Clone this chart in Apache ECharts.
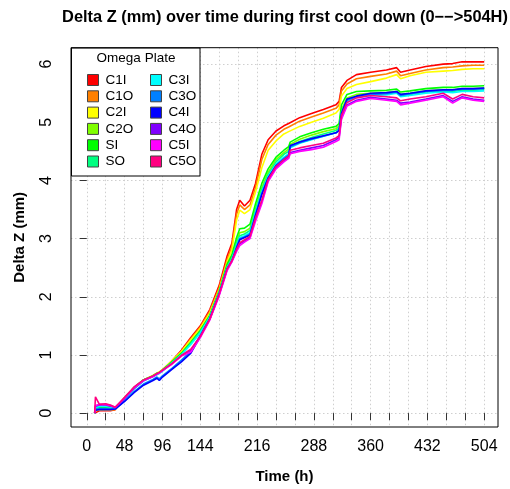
<!DOCTYPE html>
<html><head><meta charset="utf-8">
<script src="https://cdn.jsdelivr.net/npm/echarts@6/dist/echarts.min.js"></script>
<style>html,body{margin:0;padding:0;background:#fff}#c{width:510px;height:489px}</style>
</head><body><div id="c"></div>
<script>
const T = [10, 11, 16, 24, 30, 36, 48, 60, 72, 84, 89, 92, 96, 108, 120, 132, 144, 156, 168, 178, 184, 190, 194, 200, 207, 214, 222, 230, 240, 250, 256, 258, 270, 285, 300, 316, 320, 323, 330, 342, 360, 380, 393, 398, 410, 430, 452, 464, 476, 490, 504];
const C1I = [0.00,0.03,0.04,0.04,0.04,0.06, 0.26,0.42,0.56,0.64,0.68,0.70,0.74, 0.90,1.08,1.30,1.50,1.78,2.20, 2.70,2.92,3.50,3.66,3.56,3.66, 3.95,4.45,4.70,4.85,4.94,4.98, 5.00,5.08,5.15,5.22,5.30,5.36, 5.60,5.72,5.82,5.86,5.90,5.94, 5.86,5.90,5.96,6.00,6.01,6.04, 6.04,6.04];
const C1O = [0.00,0.04,0.05,0.05,0.05,0.06, 0.26,0.43,0.57,0.64,0.68,0.70,0.74, 0.89,1.06,1.28,1.48,1.75,2.16, 2.64,2.86,3.42,3.58,3.50,3.58, 3.88,4.36,4.62,4.78,4.88,4.92, 4.94,5.02,5.09,5.16,5.24,5.30, 5.54,5.66,5.75,5.79,5.83,5.88, 5.80,5.84,5.90,5.94,5.95,5.97, 5.98,5.98];
const C2I = [0.00,0.04,0.06,0.06,0.06,0.07, 0.27,0.44,0.57,0.65,0.69,0.71,0.75, 0.90,1.06,1.26,1.46,1.72,2.12, 2.60,2.80,3.32,3.49,3.43,3.50, 3.80,4.22,4.52,4.68,4.80,4.84, 4.86,4.93,5.00,5.07,5.16,5.22, 5.45,5.58,5.65,5.70,5.76,5.82, 5.75,5.80,5.86,5.88,5.89,5.91, 5.92,5.92];
const C2O = [0.00,0.07,0.09,0.09,0.08,0.08, 0.26,0.44,0.57,0.64,0.68,0.70,0.74, 0.88,1.02,1.22,1.42,1.67,2.09, 2.54,2.68,2.96,3.10,3.12,3.18, 3.52,3.88,4.14,4.36,4.48,4.54, 4.62,4.71,4.78,4.84,4.89,4.94, 5.22,5.42,5.48,5.50,5.51,5.53, 5.48,5.50,5.54,5.56,5.56,5.58, 5.58,5.59];
const SI  = [0.00,0.08,0.10,0.10,0.09,0.08, 0.26,0.44,0.57,0.64,0.68,0.70,0.74, 0.88,1.03,1.22,1.42,1.68,2.10, 2.56,2.72,3.02,3.17,3.18,3.25, 3.60,3.95,4.20,4.40,4.52,4.58, 4.66,4.75,4.82,4.88,4.93,4.98, 5.30,5.48,5.53,5.54,5.55,5.57, 5.52,5.54,5.58,5.60,5.60,5.62, 5.62,5.63];
const SO  = [0.00,0.09,0.11,0.11,0.10,0.08, 0.26,0.44,0.57,0.64,0.68,0.70,0.74, 0.87,1.01,1.20,1.40,1.66,2.08, 2.52,2.66,2.92,3.05,3.08,3.14, 3.48,3.84,4.10,4.32,4.45,4.50, 4.58,4.67,4.74,4.80,4.86,4.90, 5.18,5.38,5.45,5.48,5.49,5.51, 5.46,5.48,5.52,5.54,5.53,5.55, 5.55,5.56];
const C3I = [0.00,0.10,0.12,0.12,0.11,0.08, 0.24,0.42,0.55,0.63,0.66,0.68,0.72, 0.86,1.00,1.18,1.38,1.65,2.07, 2.50,2.64,2.88,3.02,3.05,3.10, 3.45,3.80,4.07,4.28,4.40,4.46, 4.56,4.64,4.70,4.76,4.82,4.86, 5.14,5.35,5.43,5.46,5.47,5.50, 5.44,5.46,5.50,5.52,5.51,5.53, 5.53,5.54];
const C3O = [0.00,0.06,0.08,0.08,0.07,0.07, 0.21,0.37,0.50,0.58,0.62,0.59,0.64, 0.77,0.91,1.06,1.34,1.63,2.06, 2.49,2.62,2.86,3.00,3.03,3.08, 3.42,3.78,4.05,4.26,4.38,4.44, 4.58,4.65,4.71,4.76,4.82,4.86, 5.15,5.38,5.44,5.48,5.49,5.52, 5.46,5.49,5.53,5.55,5.55,5.57, 5.57,5.58];
const C4I = [0.00,0.05,0.06,0.06,0.06,0.07, 0.20,0.35,0.48,0.56,0.60,0.56,0.62, 0.75,0.88,1.03,1.32,1.62,2.05, 2.48,2.61,2.84,2.98,3.02,3.06, 3.40,3.76,4.04,4.25,4.36,4.42, 4.60,4.66,4.72,4.77,4.82,4.86, 5.15,5.40,5.45,5.50,5.51,5.53, 5.48,5.50,5.54,5.56,5.56,5.58, 5.58,5.59];
const C4O = [0.00,0.12,0.14,0.14,0.12,0.09, 0.25,0.43,0.56,0.63,0.67,0.69,0.73, 0.85,0.99,1.08,1.32,1.61,2.04, 2.47,2.61,2.80,2.91,2.96,3.02, 3.34,3.64,4.00,4.22,4.34,4.40, 4.48,4.52,4.56,4.60,4.70,4.74, 5.08,5.30,5.38,5.43,5.40,5.38, 5.33,5.35,5.40,5.46,5.36,5.44, 5.40,5.38];
const C5I = [0.00,0.13,0.15,0.15,0.13,0.10, 0.26,0.44,0.56,0.63,0.67,0.69,0.73, 0.84,0.98,1.05,1.30,1.60,2.02, 2.45,2.60,2.78,2.88,2.94,3.00, 3.30,3.60,3.98,4.20,4.32,4.38, 4.46,4.50,4.53,4.57,4.67,4.70, 5.05,5.28,5.36,5.41,5.38,5.36, 5.30,5.33,5.38,5.44,5.33,5.42, 5.38,5.36];
const C5O = [0.00,0.28,0.15,0.16,0.14,0.10, 0.27,0.45,0.57,0.64,0.68,0.70,0.74, 0.85,0.99,1.10,1.32,1.62,2.05, 2.48,2.62,2.82,2.93,2.98,3.04, 3.36,3.66,4.02,4.24,4.36,4.42, 4.52,4.56,4.60,4.64,4.73,4.77, 5.12,5.34,5.42,5.46,5.44,5.42, 5.37,5.40,5.44,5.50,5.40,5.48, 5.44,5.42];

const names = ['C1I','C1O','C2I','C2O','SI','SO','C3I','C3O','C4I','C4O','C5I','C5O'];
const values = [C1I,C1O,C2I,C2O,SI,SO,C3I,C3O,C4I,C4O,C5I,C5O];
const colors = ['#FF0000','#FF8000','#FFFF00','#80FF00','#00FF00','#00FF80','#00FFFF','#0080FF','#0000FF','#8000FF','#FF00FF','#FF0080'];
const xTicks = [0,24,48,72,96,120,144,168,192,216,240,264,288,312,336,360,384,408,432,456,480,504];
const xLabels = [0,48,96,144,216,288,360,432,504];
const yTicks = [0,1,2,3,4,5,6];

const FONT = 'Liberation Sans, Arial, sans-serif';
const chart = echarts.init(document.getElementById('c'), null, {renderer:'canvas'});
const series = names.map((n,i)=>({
  name:n, type:'line', showSymbol:false, symbol:'none',
  data: T.map((t,j)=>[t, values[i][j]]),
  lineStyle:{color:colors[i], width:1.6},
  itemStyle:{color:colors[i]},
  emphasis:{disabled:true}, silent:true
}));
const legendCommon = {
  orient:'vertical', icon:'rect', itemWidth:11, itemHeight:11, itemGap:0.3,
  itemStyle:{borderColor:'#444', borderWidth:1},
  textStyle:{fontFamily:FONT, fontSize:13.5, color:'#000', lineHeight:16, padding:[0,0,0,2]},
  top:67, selectedMode:false, z:30
};
chart.setOption({
  animation:false,
  backgroundColor:'#fff',
  grid:{left:71, top:47.7, width:427, height:382.3, show:true, borderColor:'#000', borderWidth:1, backgroundColor:'transparent', z:10},
  xAxis:{type:'value', min:-20, max:521.5,
    name:'Time (h)', nameLocation:'middle', nameGap:42,
    nameTextStyle:{fontFamily:FONT, fontSize:15, fontWeight:'bold', color:'#000'},
    axisLine:{show:false},
    axisTick:{show:true, customValues:xTicks, length:7, inside:false, lineStyle:{color:'#333'}},
    axisLabel:{show:true, customValues:xLabels, fontFamily:FONT, fontSize:16, color:'#000', margin:12},
    splitLine:{show:true, lineStyle:{color:'#cfcfcf', type:[1.5,2.5], width:1}}
  },
  yAxis:{type:'value', min:-0.239, max:6.283,
    name:'Delta Z (mm)', nameLocation:'middle', nameGap:44,
    nameTextStyle:{fontFamily:FONT, fontSize:15, fontWeight:'bold', color:'#000'},
    axisLine:{show:false},
    axisTick:{show:true, customValues:yTicks, length:7, lineStyle:{color:'#333'}},
    axisLabel:{show:true, customValues:yTicks, rotate:90, fontFamily:FONT, fontSize:16, color:'#000', margin:16},
    splitLine:{show:true, lineStyle:{color:'#cfcfcf', type:[1.5,2.5], width:1}}
  },
  legend:[
    Object.assign({left:82, data:names.slice(0,6)}, legendCommon),
    Object.assign({left:145, data:names.slice(6)}, legendCommon)
  ],
  graphic:[
    {type:'text', x:285, y:17, z:100, style:{text:'Delta Z (mm) over time during first cool down (0\u2212\u2212>504H)', fontFamily:FONT, fontSize:16.4, fontWeight:'bold', fill:'#000', align:'center', verticalAlign:'middle'}},
    {type:'rect', z:3, shape:{x:71.5, y:48, width:128.5, height:128}, style:{fill:'#fff', stroke:'#000', lineWidth:1}},
    {type:'text', x:136, y:58.5, z:100, style:{text:'Omega Plate', fontFamily:FONT, fontSize:13.5, fill:'#000', align:'center', verticalAlign:'middle'}}
  ],
  series:series
});
</script></body></html>
